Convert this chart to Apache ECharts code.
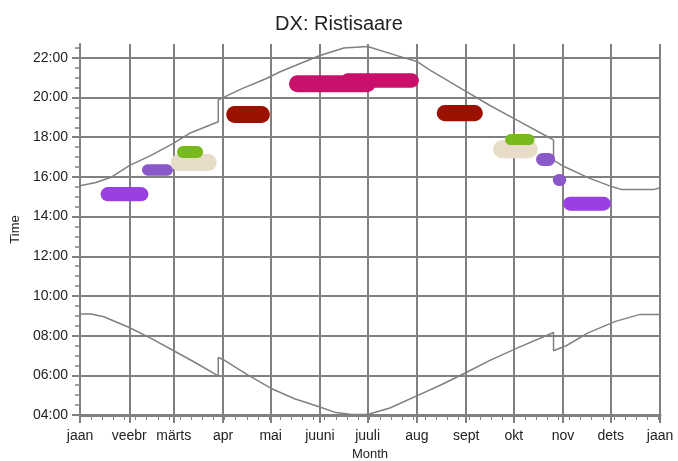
<!DOCTYPE html>
<html>
<head>
<meta charset="utf-8">
<script src="https://cdn.jsdelivr.net/npm/echarts@6/dist/echarts.min.js"></script>
<style>
  html, body { margin: 0; padding: 0; background: #fff; }
  #chart { width: 678px; height: 461px; }
</style>
</head>
<body>
<div id="chart"></div>
<script>
// Month boundaries (day of year) and their labels
const monthNames = ['jaan', 'veebr', 'märts', 'apr', 'mai', 'juuni', 'juuli', 'aug', 'sept', 'okt', 'nov', 'dets', 'jaan'];
const monthStarts = [0, 31, 59, 90, 120, 151, 181, 212, 243, 273, 304, 334, 365];
const hourTicks = [4, 6, 8, 10, 12, 14, 16, 18, 20, 22];

// Sunrise and sunset, local clock time (hours), with the summer-time steps
const sunriseDays  = [0, 7, 15, 31, 45, 59, 73, 87, 87, 90, 105, 120, 135, 151, 161, 170, 181, 195, 213, 228, 243, 258, 275, 298, 298, 306, 320, 337, 352, 365];
const sunriseHours = [9.09, 9.09, 8.95, 8.41, 7.85, 7.24, 6.62, 5.97, 6.9, 6.8, 6.05, 5.35, 4.82, 4.4, 4.12, 4.04, 4.03, 4.35, 5.0, 5.55, 6.14, 6.75, 7.37, 8.16, 7.24, 7.49, 8.15, 8.72, 9.06, 9.06];

const sunsetDays  = [0, 10, 20, 31, 45, 59, 69, 87, 87, 90, 102, 117, 126, 139, 151, 166, 181, 200, 212, 220, 241, 258, 275, 296, 298, 298, 304, 320, 335, 341, 361, 365];
const sunsetHours = [15.55, 15.72, 16.0, 16.57, 17.1, 17.7, 18.2, 18.78, 19.87, 20.0, 20.45, 20.95, 21.3, 21.73, 22.12, 22.5, 22.57, 22.1, 21.82, 21.4, 20.4, 19.6, 18.86, 17.95, 17.85, 16.85, 16.55, 15.95, 15.5, 15.36, 15.36, 15.46];

// Openings: first day, last day, earliest and latest time, group
const blobStart = [13, 39, 57, 61, 92, 131.5, 164, 224.5, 260, 267.5, 287, 297.5, 304];
const blobEnd   = [43, 58.5, 86, 77.5, 119.5, 186, 213.3, 253.5, 288, 286, 299, 306, 334];
const blobLow   = [14.77, 16.06, 16.3, 16.95, 18.72, 20.27, 20.5, 18.81, 16.94, 17.61, 16.55, 15.54, 14.3];
const blobHigh  = [15.49, 16.64, 17.15, 17.56, 19.57, 21.12, 21.22, 19.62, 17.86, 18.16, 17.21, 16.15, 15.0];
const blobGroup = ['violet', 'lilac', 'sand', 'lime', 'maroon', 'rose', 'rose', 'maroon', 'sand', 'lime', 'lilac', 'lilac', 'violet'];

const groupColors = {
  violet: '#9a3fe2',
  lilac: '#8a58c8',
  sand: '#e7dcc7',
  lime: '#78b91e',
  maroon: '#9c1000',
  rose: '#c9106a'
};

const gridColor = '#808080';
const textColor = '#222';
const font = 'Liberation Sans, Arial, sans-serif';

// Weekly minor ticks along the year, half-hour minor ticks along the day
const weekTicks = [];
for (let d = 7; d < 365; d += 7) weekTicks.push(d);
const halfHourTicks = [];
for (let h = 4.5; h <= 22.5; h += 0.5) if (hourTicks.indexOf(h) < 0) halfHourTicks.push(h);

const pad = h => (h < 10 ? '0' : '') + h + ':00';

const chart = echarts.init(document.getElementById('chart'), null, { renderer: 'canvas' });

chart.setOption({
  animation: false,
  backgroundColor: '#fff',
  textStyle: { fontFamily: font },
  title: {
    text: 'DX: Ristisaare',
    left: 'center',
    top: 9,
    textStyle: { fontSize: 20, fontWeight: 'normal', color: textColor, fontFamily: font }
  },
  grid: { left: 80, top: 44, right: 18, bottom: 46, containLabel: false, outerBoundsMode: 'none' },
  xAxis: [
    {
      type: 'value', min: 0, max: 365,
      name: 'Month', nameLocation: 'middle', nameGap: 32,
      nameTextStyle: { fontSize: 13, color: textColor },
      axisLine: { show: true, lineStyle: { color: gridColor, width: 3 } },
      axisTick: { show: true, customValues: monthStarts, length: 8, lineStyle: { color: gridColor, width: 2 } },
      axisLabel: {
        customValues: monthStarts, fontSize: 14, color: textColor, margin: 14,
        formatter: v => monthNames[monthStarts.indexOf(v)]
      },
      splitLine: { show: true, lineStyle: { color: gridColor, width: 2 } }
    },
    {
      type: 'value', min: 0, max: 365, position: 'bottom',
      axisLine: { show: false },
      axisTick: { show: true, customValues: weekTicks, length: 5, lineStyle: { color: gridColor, width: 1 } },
      axisLabel: { show: false },
      splitLine: { show: false }
    }
  ],
  yAxis: [
    {
      type: 'value', min: 4, max: 22.7,
      name: 'Time', nameLocation: 'middle', nameGap: 58,
      nameTextStyle: { fontSize: 13, color: textColor },
      axisLine: { show: true, lineStyle: { color: gridColor, width: 2 } },
      axisTick: { show: true, customValues: hourTicks, length: 8, lineStyle: { color: gridColor, width: 2 } },
      axisLabel: { customValues: hourTicks, fontSize: 14, color: textColor, margin: 12, formatter: v => pad(v) },
      splitLine: { show: true, lineStyle: { color: gridColor, width: 2 } }
    },
    {
      type: 'value', min: 4, max: 22.7, position: 'left',
      axisLine: { show: false },
      axisTick: { show: true, customValues: halfHourTicks, length: 5, lineStyle: { color: gridColor, width: 1.5 } },
      axisLabel: { show: false },
      splitLine: { show: false }
    }
  ],
  series: [
    {
      name: 'sunrise', type: 'line', xAxisIndex: 0, yAxisIndex: 0,
      data: sunriseDays.map((d, i) => [d, sunriseHours[i]]),
      showSymbol: false, symbol: 'none', z: 3,
      lineStyle: { color: gridColor, width: 1.5 }
    },
    {
      name: 'sunset', type: 'line', xAxisIndex: 0, yAxisIndex: 0,
      data: sunsetDays.map((d, i) => [d, sunsetHours[i]]),
      showSymbol: false, symbol: 'none', z: 3,
      lineStyle: { color: gridColor, width: 1.5 }
    },
    {
      name: 'openings', type: 'custom', xAxisIndex: 0, yAxisIndex: 0, z: 4,
      data: blobStart.map((s, i) => [s, blobEnd[i], blobLow[i], blobHigh[i]]),
      encode: { x: [0, 1], y: [2, 3] },
      renderItem: (params, api) => {
        const a = api.coord([api.value(0), api.value(3)]);
        const b = api.coord([api.value(1), api.value(2)]);
        const h = b[1] - a[1];
        return {
          type: 'rect',
          shape: { x: a[0], y: a[1], width: b[0] - a[0], height: h, r: h / 2 },
          style: { fill: groupColors[blobGroup[params.dataIndex]] }
        };
      }
    }
  ]
});
</script>
</body>
</html>
